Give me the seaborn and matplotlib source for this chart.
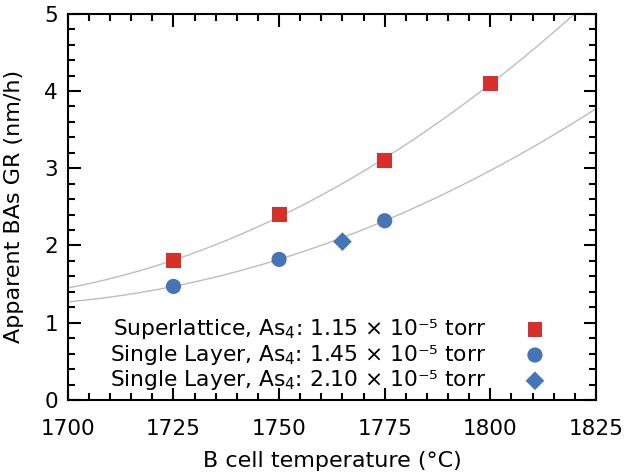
import numpy as np
import pandas as pd
import matplotlib
matplotlib.use("Agg")
import matplotlib.pyplot as plt
import seaborn as sns
from matplotlib.ticker import MultipleLocator

# Data
sl_temp = [1725, 1750, 1775, 1800]
sl_gr = [1.80, 2.40, 3.10, 4.10]
single_temp = [1725, 1750, 1775]
single_gr = [1.47, 1.82, 2.32]
single2_temp = [1765]
single2_gr = [2.05]

labels = [
    r"Superlattice, As$_4$: 1.15 × 10⁻⁵ torr",
    r"Single Layer, As$_4$: 1.45 × 10⁻⁵ torr",
    r"Single Layer, As$_4$: 2.10 × 10⁻⁵ torr",
]

red = "#d7302a"
blue = "#4575b6"

sns.set_style("ticks")
plt.rcParams["font.family"] = ["DejaVu Sans"]
plt.rcParams["mathtext.default"] = "regular"
for k in ["text.color", "axes.labelcolor", "xtick.color", "ytick.color", "axes.edgecolor"]:
    plt.rcParams[k] = "black"

fig, ax = plt.subplots(figsize=(6.28, 4.75), dpi=100)

# Quadratic fits derived from the data
xs = np.linspace(1700, 1825, 300)
p1 = np.polyfit(sl_temp, sl_gr, 2)
p2 = np.polyfit(single_temp, single_gr, 2)
fit_df = pd.DataFrame({"x": np.concatenate([xs, xs]),
                       "y": np.concatenate([np.polyval(p1, xs), np.polyval(p2, xs)]),
                       "fit": ["a"] * len(xs) + ["b"] * len(xs)})
sns.lineplot(data=fit_df, x="x", y="y", units="fit", estimator=None,
             color="#bdbdbd", linewidth=1.0, ax=ax, legend=False, zorder=1)

sns.scatterplot(x=sl_temp, y=sl_gr, marker="s", s=115, color=red,
                edgecolor="none", ax=ax, label=labels[0], zorder=3)
sns.scatterplot(x=single_temp, y=single_gr, marker="o", s=120, color=blue,
                edgecolor="none", ax=ax, label=labels[1], zorder=3)
sns.scatterplot(x=single2_temp, y=single2_gr, marker="D", s=90, color=blue,
                edgecolor="none", ax=ax, label=labels[2], zorder=3)

ax.set_xlim(1700, 1825)
ax.set_ylim(0, 5)
ax.xaxis.set_major_locator(MultipleLocator(25))
ax.xaxis.set_minor_locator(MultipleLocator(5))
ax.yaxis.set_major_locator(MultipleLocator(1))
ax.yaxis.set_minor_locator(MultipleLocator(0.2))
ax.tick_params(which="both", direction="in", top=True, right=True,
               labelsize=15.5, width=1.5, color="black", labelcolor="black")
ax.tick_params(which="major", length=9)
ax.tick_params(axis="x", which="major", pad=14)
ax.tick_params(axis="y", which="major", pad=7)
ax.tick_params(which="minor", length=5)
for sp in ax.spines.values():
    sp.set_linewidth(1.5)
    sp.set_color("black")

ax.set_xlabel("B cell temperature (°C)", fontsize=16, color="black", labelpad=8)
ax.set_ylabel("Apparent BAs GR (nm/h)", fontsize=16, color="black")
ax.yaxis.set_label_coords(-0.083, 0.5)

leg = ax.legend(loc="lower right", bbox_to_anchor=(0.934, 0.008), frameon=False,
                markerfirst=False, fontsize=15.7, handletextpad=1.25,
                labelspacing=0.08, borderaxespad=0.0, borderpad=0.2)
for t in leg.get_texts():
    t.set_color("black")

fig.subplots_adjust(left=0.108, right=0.949, top=0.971, bottom=0.158)
fig.savefig("out.png", dpi=100)
